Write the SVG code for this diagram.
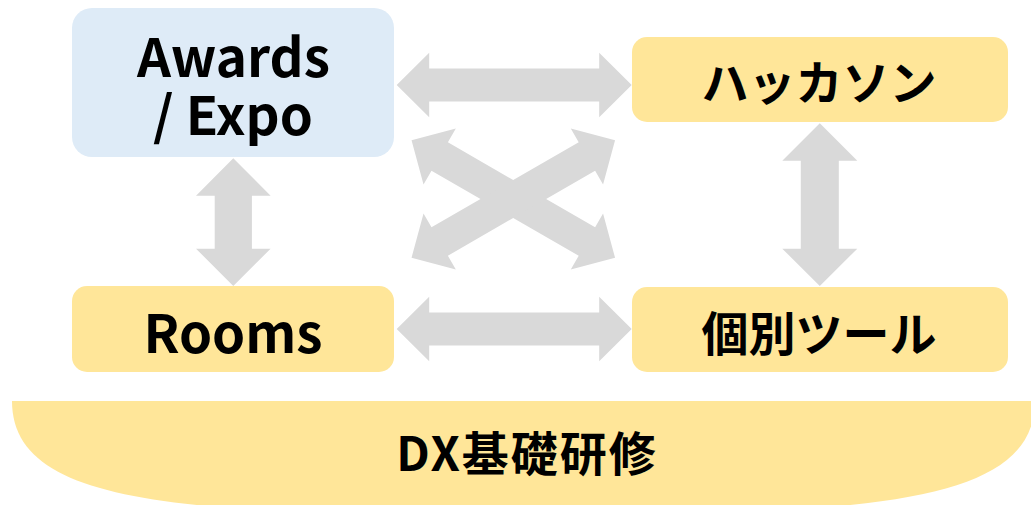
<svg xmlns="http://www.w3.org/2000/svg" xmlns:xlink="http://www.w3.org/1999/xlink" width="1031" height="505" viewBox="0 0 1031 505">
  <style>
    .blue { fill: #DEEBF7; }
    .gold { fill: #FFE699; }
    .arrow { fill: #D9D9D9; }
    .lbl { font-family: "Noto Sans CJK JP", "Noto Sans", sans-serif; font-weight: 700; fill: #000000; text-anchor: middle; }
    .lat { font-size: 53px; }
    .jp { font-size: 47px; }
  </style>
  <defs>
    <polygon id="harrow" points="-117.5,0 -85,-32.3 -85,-16.4 85,-16.4 85,-32.3 117.5,0 85,32.3 85,16.4 -85,16.4 -85,32.3"/>
    <polygon id="varrow" points="0,-63.85 37.3,-26.45 18.6,-26.45 18.6,26.45 37.3,26.45 0,63.85 -37.3,26.45 -18.6,26.45 -18.6,-26.45 -37.3,-26.45"/>
    <polygon id="varrow-long" points="0,-81.35 37.5,-43.95 19,-43.95 19,43.95 37.5,43.95 0,81.35 -37.5,43.95 -19,43.95 -19,-43.95 -37.5,-43.95"/>
  </defs>
  <rect width="1031" height="505" fill="#FFFFFF"/>

  <g id="connectors" class="arrow">
    <use xlink:href="#harrow" transform="translate(514.2,85)"/>
    <use xlink:href="#harrow" transform="translate(514.2,329)"/>
    <use xlink:href="#harrow" transform="translate(513.3,199) rotate(30)"/>
    <use xlink:href="#harrow" transform="translate(513.3,199) rotate(-30)"/>
    <use xlink:href="#varrow" transform="translate(233.3,222.2)"/>
    <use xlink:href="#varrow-long" transform="translate(819.8,204.7)"/>
  </g>

  <g id="node-awards">
    <rect class="blue" x="72" y="8" width="322" height="149" rx="20"/>
    <text class="lbl lat"><tspan x="233.5" y="77">Awards</tspan><tspan x="233" y="135">/ Expo</tspan></text>
  </g>

  <g id="node-hackathon">
    <rect class="gold" x="632" y="37" width="376" height="85" rx="15"/>
    <text class="lbl jp" x="819" y="100">ハッカソン</text>
  </g>

  <g id="node-rooms">
    <rect class="gold" x="72" y="286" width="322" height="86" rx="15"/>
    <text class="lbl lat" x="233" y="353">Rooms</text>
  </g>

  <g id="node-tools">
    <rect class="gold" x="632" y="287" width="376" height="85" rx="15"/>
    <text class="lbl jp" x="819" y="351">個別ツール</text>
  </g>

  <g id="node-dx">
    <path class="gold" d="M 12 401 H 1035 C 1035 505, 867 515, 523.5 515 C 180 515, 12 505, 12 401 Z"/>
    <text class="lbl" style="font-size:47px; letter-spacing:2px" x="527" y="471">DX基礎研修</text>
  </g>
</svg>
